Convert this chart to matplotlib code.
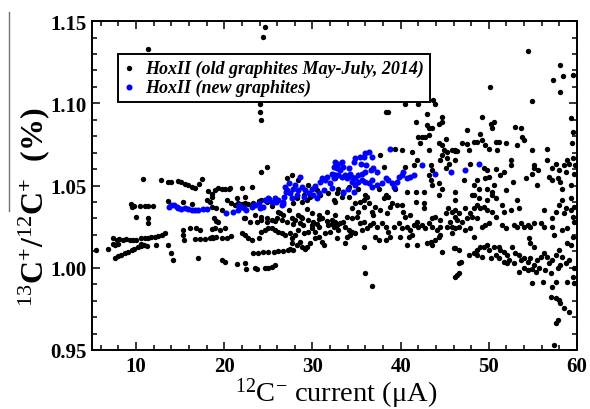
import numpy as np
import matplotlib
matplotlib.use("Agg")
import matplotlib.pyplot as plt
from matplotlib.lines import Line2D
from matplotlib.ticker import MultipleLocator, FormatStrFormatter

plt.rcParams["font.family"] = ["Liberation Serif", "DejaVu Serif"]
plt.rcParams["mathtext.fontset"] = "custom"
plt.rcParams["mathtext.rm"] = "Liberation Serif"
plt.rcParams["mathtext.it"] = "Liberation Serif:italic"
plt.rcParams["mathtext.bf"] = "Liberation Serif:bold"

# ---------------------------------------------------------------------------
# data: (current uA, ratio %)
# ---------------------------------------------------------------------------
old_low_current = [
    (10.8, 1.0542), (12.8, 1.0536), (13.6, 1.0522), (14.0, 1.0522), (14.8, 1.0526), (15.1, 1.0522),
    (15.5, 1.0512), (15.9, 1.0502), (16.3, 1.0492), (16.7, 1.0486), (17.1, 1.0512), (17.5, 1.0538),
    (18.2, 1.0465), (18.0, 1.0411), (18.6, 1.0451),
    (9.4, 1.0390), (9.5, 1.0370), (9.8, 1.0374), (10.4, 1.0374), (11.0, 1.0374), (11.4, 1.0374),
    (11.9, 1.0374), (10.0, 1.0309), (11.4, 1.0303), (11.4, 1.0273), (13.6, 1.0405), (15.3, 1.0401),
    (16.3, 1.0390), (18.4, 1.0401),
    (7.4, 1.0178), (7.8, 1.0168), (8.1, 1.0174), (8.5, 1.0168), (8.9, 1.0172), (9.3, 1.0168),
    (9.7, 1.0168), (10.0, 1.0168), (10.6, 1.0178), (11.0, 1.0182), (11.4, 1.0184), (11.7, 1.0188),
    (12.1, 1.0188), (12.5, 1.0194), (12.9, 1.0198), (13.3, 1.0214), (7.4, 1.0147), (7.6, 1.0137),
    (8.0, 1.0147), (10.5, 1.0147),
    (7.6, 1.0062), (7.9, 1.0070), (8.3, 1.0080), (8.7, 1.0089), (9.1, 1.0097), (9.5, 1.0107),
    (9.8, 1.0117), (10.2, 1.0127), (10.6, 1.0133), (10.9, 1.0141), (6.8, 1.0117), (5.4, 1.0107),
    (11.2, 1.0133), (12.3, 1.0141), (13.6, 1.0141), (13.9, 1.0087), (14.2, 1.0050),
    (15.3, 1.0228), (15.3, 1.0198), (15.4, 1.0168), (16.1, 1.0243), (16.8, 1.0239), (17.2, 1.0228),
    (16.7, 1.0174), (17.2, 1.0174), (17.8, 1.0174), (18.4, 1.0178), (18.7, 1.0178), (17.0, 1.0060),
    (18.6, 1.0234),
]

old_outliers = [
    (11.4, 1.1333), (24.6, 1.1465), (24.4, 1.1404), (24.1, 1.0999), (24.0, 1.0950), (24.2, 1.0897),
    (24.8, 1.0614), (24.2, 1.0584),
    (54.4, 1.1317), (58.1, 1.1232), (58.4, 1.1167), (57.3, 1.1145), (59.5, 1.1175), (50.1, 1.1100),
]

old_mid_upper = [
    (18.9, 1.0472), (19.3, 1.0483), (19.7, 1.0478), (20.1, 1.0478), (20.5, 1.0478), (20.6, 1.0483),
    (18.6, 1.0432), (20.3, 1.0412), (21.4, 1.0422), (22.0, 1.0483), (23.1, 1.0493), (22.3, 1.0432),
    (18.6, 1.0371), (19.1, 1.0361), (19.7, 1.0351), (20.8, 1.0391), (21.2, 1.0381), (21.6, 1.0391),
    (22.0, 1.0385), (22.3, 1.0391), (22.7, 1.0385), (23.3, 1.0391), (23.9, 1.0405), (24.2, 1.0412),
    (24.8, 1.0401), (25.4, 1.0377), (26.1, 1.0341), (26.7, 1.0320), (27.3, 1.0351), (27.8, 1.0391),
    (28.2, 1.0422), (28.8, 1.0401), (29.4, 1.0412), (29.7, 1.0432), (29.0, 1.0442), (29.5, 1.0503),
    (28.4, 1.0533), (27.7, 1.0564), (27.1, 1.0543), (30.5, 1.0472), (30.9, 1.0442), (31.8, 1.0452),
    (32.8, 1.0452), (32.4, 1.0412),
    (18.8, 1.0300), (19.3, 1.0280), (22.2, 1.0300), (23.5, 1.0320), (24.2, 1.0310), (24.8, 1.0300),
    (25.4, 1.0290), (26.0, 1.0300), (26.3, 1.0330), (27.7, 1.0300), (28.4, 1.0320), (28.8, 1.0300),
    (29.4, 1.0360), (29.9, 1.0330), (30.7, 1.0320), (31.1, 1.0300), (31.6, 1.0340), (32.2, 1.0290),
    (32.6, 1.0320),
]

old_mid_lower = [
    (22.3, 1.0300), (22.9, 1.0280), (23.7, 1.0276), (24.2, 1.0290), (24.8, 1.0276), (25.8, 1.0284),
    (26.5, 1.0290), (27.1, 1.0276), (28.0, 1.0290), (28.6, 1.0270), (29.5, 1.0290), (30.1, 1.0280),
    (30.7, 1.0294), (31.6, 1.0284), (32.2, 1.0264), (32.6, 1.0280), (19.1, 1.0284),
    (18.9, 1.0240), (19.5, 1.0229), (20.1, 1.0240), (18.6, 1.0189), (19.1, 1.0189), (19.7, 1.0178),
    (20.3, 1.0182), (20.8, 1.0195),
    (22.0, 1.0209), (22.3, 1.0199), (22.7, 1.0178), (23.1, 1.0168), (23.9, 1.0178), (24.2, 1.0219),
    (24.6, 1.0229), (25.0, 1.0239), (25.4, 1.0243), (25.8, 1.0229), (26.1, 1.0219), (26.5, 1.0209),
    (26.9, 1.0199), (27.5, 1.0209), (28.0, 1.0199), (28.4, 1.0229), (29.0, 1.0209), (29.5, 1.0219),
    (29.9, 1.0239), (30.3, 1.0219), (30.7, 1.0189), (31.1, 1.0158), (31.3, 1.0138), (30.3, 1.0178),
    (29.7, 1.0148), (29.4, 1.0128), (28.8, 1.0128), (28.2, 1.0138), (27.7, 1.0148), (27.7, 1.0178),
    (31.8, 1.0260), (31.4, 1.0209), (29.9, 1.0260), (30.7, 1.0249), (32.0, 1.0219),
    (28.7, 1.0310), (27.8, 1.0269), (28.9, 1.0259), (30.5, 1.0269), (27.4, 1.0117), (29.1, 1.0117),
    (28.6, 1.0157),
    (23.3, 1.0087), (23.8, 1.0090), (24.4, 1.0093), (25.0, 1.0095), (25.6, 1.0097), (26.1, 1.0099),
    (26.7, 1.0102), (27.2, 1.0106), (27.8, 1.0110),
    (19.7, 1.0047), (20.1, 1.0037), (21.4, 1.0020), (22.3, 1.0026), (22.5, 0.9990), (23.5, 1.0000),
    (23.7, 0.9992), (24.6, 0.9996), (25.0, 1.0000), (25.4, 1.0006), (25.8, 1.0016),
]

old_high_upper = [
    (40.5, 1.0999), (42.0, 1.0999), (43.7, 1.1019), (43.9, 1.0999), (38.3, 1.0948), (38.6, 1.0948),
    (43.0, 1.0938), (41.7, 1.0887), (44.7, 1.0918), (44.7, 1.0887), (44.3, 1.0877), (43.0, 1.0867),
    (43.2, 1.0847), (43.6, 1.0847), (42.0, 1.0796), (42.4, 1.0796), (42.8, 1.0796), (43.2, 1.0806),
    (42.2, 1.0756), (45.1, 1.0786), (44.3, 1.0756), (44.7, 1.0746), (44.9, 1.0715), (45.3, 1.0705),
    (45.8, 1.0715), (46.2, 1.0715), (44.7, 1.0685), (44.5, 1.0654), (45.3, 1.0665), (45.5, 1.0634),
    (45.1, 1.0604),
    (39.4, 1.0725), (40.1, 1.0715), (41.3, 1.0705), (43.2, 1.0715), (41.9, 1.0654), (41.5, 1.0624),
    (40.5, 1.0614), (43.4, 1.0624), (43.6, 1.0594), (43.2, 1.0563), (43.4, 1.0533), (43.6, 1.0502),
    (44.3, 1.0513), (44.7, 1.0482), (44.3, 1.0442),
    (37.7, 1.0685), (38.1, 1.0614), (32.6, 1.0543), (34.1, 1.0492), (32.9, 1.0482), (35.2, 1.0482),
    (36.0, 1.0442), (37.5, 1.0482), (38.3, 1.0442), (39.4, 1.0482), (40.7, 1.0462), (41.7, 1.0462),
    (42.6, 1.0462), (46.2, 1.0462),
]

old_high_lower = [
    (32.6, 1.0401), (33.3, 1.0432), (34.1, 1.0432), (34.5, 1.0361), (34.8, 1.0391), (35.4, 1.0401),
    (35.8, 1.0411), (36.2, 1.0432), (36.4, 1.0391), (35.8, 1.0371), (35.2, 1.0341), (35.0, 1.0310),
    (34.5, 1.0300), (33.9, 1.0310), (33.5, 1.0280), (33.1, 1.0270), (32.8, 1.0259), (32.4, 1.0249),
    (32.9, 1.0229), (33.7, 1.0249), (34.1, 1.0229), (34.5, 1.0219), (34.8, 1.0209), (33.9, 1.0189),
    (34.3, 1.0199), (35.4, 1.0270), (35.8, 1.0280), (35.6, 1.0229), (36.2, 1.0239), (36.5, 1.0259),
    (36.9, 1.0270), (36.9, 1.0320), (36.7, 1.0341), (37.1, 1.0371), (37.7, 1.0351), (38.1, 1.0422),
    (38.6, 1.0432), (38.4, 1.0330), (38.8, 1.0371), (39.0, 1.0391), (39.6, 1.0381), (40.1, 1.0381),
    (40.3, 1.0341), (40.5, 1.0310), (41.1, 1.0320), (41.7, 1.0401), (42.6, 1.0391), (42.6, 1.0361),
    (41.9, 1.0280), (41.5, 1.0259), (42.0, 1.0249), (42.4, 1.0259), (42.8, 1.0239), (43.2, 1.0270),
    (43.6, 1.0300), (43.9, 1.0310), (44.5, 1.0290), (45.1, 1.0330), (45.4, 1.0361), (45.8, 1.0341),
    (46.2, 1.0310), (45.6, 1.0280), (45.3, 1.0249), (44.5, 1.0249), (44.1, 1.0229), (43.6, 1.0249),
    (39.2, 1.0249), (39.8, 1.0270), (40.1, 1.0239), (40.7, 1.0249), (41.1, 1.0229), (38.6, 1.0219),
    (38.3, 1.0249), (37.9, 1.0270), (37.3, 1.0249), (37.1, 1.0189), (37.5, 1.0168), (38.3, 1.0168),
    (38.8, 1.0189), (39.9, 1.0189), (40.9, 1.0189), (41.3, 1.0199), (40.7, 1.0138), (41.9, 1.0138),
    (43.0, 1.0148), (43.4, 1.0158), (43.6, 1.0138), (43.9, 1.0168), (44.3, 1.0189), (44.5, 1.0199),
    (44.7, 1.0097), (46.2, 1.0118), (32.8, 1.0178), (33.7, 1.0148), (35.8, 1.0128), (36.0, 0.9970),
    (36.8, 0.9889), (46.2, 0.9945), (45.8, 1.0209), (46.2, 1.0411),
]

old_right_upper = [
    (58.1, 1.1070), (54.9, 1.1013), (49.2, 1.0918), (50.2, 1.0877), (50.6, 1.0887), (50.4, 1.0847),
    (47.5, 1.0837), (49.0, 1.0816), (53.0, 1.0857), (53.6, 1.0847), (53.8, 1.0796), (54.0, 1.0776),
    (59.3, 1.0908), (59.5, 1.0826), (59.4, 1.0756),
    (47.0, 1.0756), (47.5, 1.0750), (48.3, 1.0762), (48.7, 1.0762), (49.2, 1.0776), (49.6, 1.0746),
    (50.0, 1.0725), (50.8, 1.0762), (51.1, 1.0762), (51.9, 1.0756), (50.9, 1.0715), (47.7, 1.0715),
    (46.2, 1.0709), (46.4, 1.0709), (53.2, 1.0746), (54.9, 1.0715), (56.6, 1.0725),
    (46.2, 1.0654), (47.9, 1.0634), (49.4, 1.0604), (49.8, 1.0594), (50.8, 1.0600), (51.3, 1.0563),
    (51.7, 1.0583), (50.0, 1.0553), (49.6, 1.0543), (48.7, 1.0533), (48.3, 1.0502), (48.9, 1.0482),
    (49.8, 1.0482), (50.6, 1.0502), (50.4, 1.0462), (48.1, 1.0442), (51.9, 1.0472), (52.5, 1.0624),
    (52.7, 1.0523), (54.2, 1.0543), (55.1, 1.0624), (55.1, 1.0604), (55.6, 1.0594), (54.9, 1.0573),
    (55.5, 1.0502), (56.6, 1.0654), (57.2, 1.0604), (57.6, 1.0634), (57.9, 1.0594), (56.8, 1.0553),
    (57.2, 1.0533), (57.8, 1.0543), (58.1, 1.0523), (58.5, 1.0624), (58.9, 1.0654), (59.1, 1.0634),
    (58.7, 1.0583), (59.5, 1.0665), (59.7, 1.0573), (59.8, 1.0624), (59.3, 1.0502), (58.3, 1.0482),
    (52.5, 1.0654), (47.2, 1.0533),
]

old_right_lower = [
    (48.3, 1.0442), (48.9, 1.0422), (49.8, 1.0412), (50.4, 1.0442), (50.8, 1.0422), (53.2, 1.0412),
    (58.3, 1.0412), (59.3, 1.0422), (57.9, 1.0381), (58.7, 1.0361), (59.3, 1.0351), (59.7, 1.0371),
    (46.2, 1.0351), (46.6, 1.0330), (47.3, 1.0361), (47.9, 1.0330), (48.3, 1.0361), (48.7, 1.0381),
    (49.0, 1.0361), (49.4, 1.0371), (49.8, 1.0351), (50.4, 1.0341), (50.8, 1.0310), (51.5, 1.0381),
    (51.7, 1.0341), (52.5, 1.0351), (53.4, 1.0361), (56.2, 1.0351), (57.2, 1.0300), (57.6, 1.0341),
    (58.5, 1.0330), (59.5, 1.0310), (59.7, 1.0280),
    (46.4, 1.0290), (47.0, 1.0280), (47.5, 1.0300), (48.1, 1.0310), (48.7, 1.0300), (49.2, 1.0249),
    (49.6, 1.0259), (46.6, 1.0249), (46.2, 1.0239), (45.8, 1.0249), (47.3, 1.0229), (47.9, 1.0239),
    (48.3, 1.0189), (50.0, 1.0270), (51.5, 1.0259), (51.9, 1.0239), (52.8, 1.0259), (53.2, 1.0249),
    (53.6, 1.0270), (54.0, 1.0249), (54.4, 1.0259), (54.7, 1.0249), (55.1, 1.0270), (55.9, 1.0270),
    (56.2, 1.0249), (57.2, 1.0249), (58.3, 1.0229), (58.9, 1.0239), (59.5, 1.0189), (57.4, 1.0199),
    (59.3, 1.0138),
    (46.0, 1.0118), (46.6, 1.0108), (47.7, 1.0077), (48.3, 1.0087), (48.7, 1.0108), (49.0, 1.0128),
    (49.4, 1.0128), (49.8, 1.0138), (50.0, 1.0108), (50.6, 1.0128), (51.1, 1.0128), (51.3, 1.0108),
    (50.8, 1.0077), (50.2, 1.0057), (49.2, 1.0067), (48.7, 1.0077), (46.6, 1.0026), (46.8, 1.0037),
    (46.4, 0.9956), (46.6, 0.9966), (51.7, 1.0097), (52.1, 1.0077), (52.6, 1.0128), (53.0, 1.0087),
    (53.4, 1.0077), (53.6, 1.0047), (54.0, 1.0057), (54.4, 1.0037), (54.7, 1.0057), (55.1, 1.0016),
    (55.5, 1.0047), (55.9, 1.0067), (56.2, 1.0087), (56.6, 1.0067), (56.8, 1.0026), (57.2, 1.0047),
    (57.6, 1.0077), (57.9, 1.0108), (58.3, 1.0067), (58.7, 1.0026), (58.1, 1.0016), (57.8, 0.9996),
    (57.0, 0.9966), (56.4, 0.9986), (55.7, 0.9996), (55.3, 0.9976), (54.9, 0.9990), (54.4, 0.9986),
    (54.0, 0.9996), (53.4, 0.9976), (52.8, 1.0026), (52.1, 1.0026), (51.7, 1.0037), (51.1, 1.0057),
    (52.3, 1.0047), (54.9, 0.9905), (56.1, 0.9915), (57.6, 0.9915), (57.2, 0.9885), (57.0, 0.9824),
    (57.6, 0.9814), (57.9, 0.9804), (58.1, 0.9783), (58.5, 0.9753), (59.1, 0.9733), (57.8, 0.9682),
    (57.6, 0.9662), (57.4, 0.9530), (58.9, 1.0148), (59.1, 1.0047), (59.7, 0.9996), (59.5, 0.9945),
    (59.7, 0.9905), (58.9, 0.9915), (54.5, 1.0178), (54.7, 1.0148), (55.1, 1.0128),
]

new_low_current = [
    (13.7, 1.0370), (14.0, 1.0380), (14.3, 1.0384), (14.6, 1.0370), (14.8, 1.0364), (15.1, 1.0360),
    (15.5, 1.0364), (15.9, 1.0356), (16.3, 1.0350), (16.7, 1.0350), (17.0, 1.0350), (17.6, 1.0360),
    (18.0, 1.0360),
]

new_mid_current = [
    (20.2, 1.0330), (21.0, 1.0341), (21.6, 1.0351), (21.8, 1.0371), (22.2, 1.0361), (22.5, 1.0351),
    (21.7, 1.0380), (23.1, 1.0371), (23.2, 1.0380), (23.5, 1.0381), (23.9, 1.0391), (24.1, 1.0361),
    (24.4, 1.0371), (24.6, 1.0412), (25.0, 1.0422), (25.4, 1.0401), (25.8, 1.0422), (26.1, 1.0412),
    (26.5, 1.0381), (26.7, 1.0401), (26.9, 1.0493), (27.3, 1.0513), (27.1, 1.0472), (27.5, 1.0452),
    (27.7, 1.0422), (27.8, 1.0482), (28.0, 1.0503), (28.6, 1.0553), (28.4, 1.0472), (28.8, 1.0493),
    (29.2, 1.0472), (29.6, 1.0452), (29.9, 1.0482), (30.1, 1.0442), (30.5, 1.0422), (30.7, 1.0452),
    (30.9, 1.0523), (31.1, 1.0543), (31.4, 1.0533), (31.6, 1.0553), (32.0, 1.0513), (32.2, 1.0483),
    (32.4, 1.0543), (32.6, 1.0564), (24.8, 1.0410), (25.1, 1.0420), (25.9, 1.0400), (26.6, 1.0390),
    (27.0, 1.0460), (28.2, 1.0440), (29.0, 1.0430), (30.3, 1.0500), (31.3, 1.0470), (26.8, 1.0430),
]

new_high_current = [
    (38.8, 1.0725), (36.4, 1.0705), (36.0, 1.0695), (35.8, 1.0675), (35.4, 1.0675), (34.8, 1.0665),
    (34.7, 1.0644), (35.5, 1.0634), (36.7, 1.0675), (36.1, 1.0624),
    (32.6, 1.0644), (32.9, 1.0634), (33.3, 1.0644), (32.4, 1.0614), (32.8, 1.0604), (33.1, 1.0594),
    (33.5, 1.0614), (34.1, 1.0604), (34.3, 1.0573), (33.7, 1.0563), (33.3, 1.0553), (32.9, 1.0563),
    (32.6, 1.0563), (32.2, 1.0573), (33.9, 1.0543), (34.5, 1.0553), (34.8, 1.0543), (35.2, 1.0563),
    (35.6, 1.0573), (36.0, 1.0583), (36.6, 1.0594), (36.9, 1.0604), (37.3, 1.0583), (36.7, 1.0533),
    (36.4, 1.0513), (36.0, 1.0523), (35.6, 1.0533), (35.2, 1.0523), (34.8, 1.0502), (34.5, 1.0523),
    (36.7, 1.0492), (37.3, 1.0502), (37.9, 1.0513), (38.3, 1.0543), (38.6, 1.0533), (39.0, 1.0513),
    (39.2, 1.0492), (39.6, 1.0523), (39.8, 1.0553), (40.1, 1.0563), (40.3, 1.0583), (40.7, 1.0543),
    (41.1, 1.0553), (41.5, 1.0563), (42.4, 1.0624), (43.9, 1.0573), (45.7, 1.0583), (33.5, 1.0452),
    (34.7, 1.0462), (47.3, 1.0594), (48.9, 1.0634), (33.5, 1.0462), (34.0, 1.0482),
]

x_ticks = [10, 20, 30, 40, 50, 60]
y_ticks = [0.95, 1.00, 1.05, 1.10, 1.15]

old_label = "HoxII (old graphites May-July, 2014)"
new_label = "HoxII (new graphites)"

# ---------------------------------------------------------------------------
# plot
# ---------------------------------------------------------------------------
old_pts = np.array(old_low_current + old_outliers + old_mid_upper + old_mid_lower
                   + old_high_upper + old_high_lower + old_right_upper + old_right_lower)
new_pts = np.array(new_low_current + new_mid_current + new_high_current)

fig = plt.figure(figsize=(5.9, 4.1), dpi=100)
ax = fig.add_axes([0.156, 0.144, 0.822, 0.802])

ax.scatter(old_pts[:, 0], old_pts[:, 1], s=15, color="black", linewidths=0, label=old_label, zorder=3)
ax.scatter(new_pts[:, 0], new_pts[:, 1], s=19, color="#0000ff", linewidths=0, label=new_label, zorder=4)

ax.set_xlim(5, 60)
ax.set_ylim(0.95, 1.15)
ax.set_xticks(x_ticks)
ax.set_yticks(y_ticks)
ax.xaxis.set_minor_locator(MultipleLocator(2))
ax.yaxis.set_minor_locator(MultipleLocator(0.01))
ax.yaxis.set_major_formatter(FormatStrFormatter("%.2f"))
ax.tick_params(which="both", direction="in", top=True, right=True, width=1.1)
ax.tick_params(which="major", length=6, labelsize=15, pad=4)
ax.tick_params(which="minor", length=3.5)
for lab in ax.get_xticklabels() + ax.get_yticklabels():
    lab.set_fontweight("bold")
for sp in ax.spines.values():
    sp.set_linewidth(1.4)

leg = ax.legend(loc="upper left", bbox_to_anchor=(0.054, 0.9), borderaxespad=0,
                frameon=True, fancybox=False, edgecolor="black", framealpha=1,
                handlelength=0.6, handletextpad=0.6, borderpad=0.3, labelspacing=0.12,
                prop={"family": "Liberation Serif", "weight": "bold", "style": "italic", "size": 13})
leg.get_frame().set_linewidth(1.4)

fig.text(0.058, 0.495,
         r"$^{\mathit{13}}\mathbf{C}^{\mathbf{+}}\mathbf{/}^{\mathit{12}}\mathbf{C}^{\mathbf{+}}$  (%)",
         rotation=90, ha="center", va="center", fontsize=23, fontweight="bold")
fig.text(0.569, 0.040, r"$^{12}$C$^{-}$ current (μA)", ha="center", va="center", fontsize=20.5)

# stray overline from the original label
fig.add_artist(Line2D([9 / 590, 9 / 590], [1 - 13 / 410, 1 - 212 / 410],
                      transform=fig.transFigure, color="0.45", lw=1.0))

fig.savefig("out.png", dpi=100)
